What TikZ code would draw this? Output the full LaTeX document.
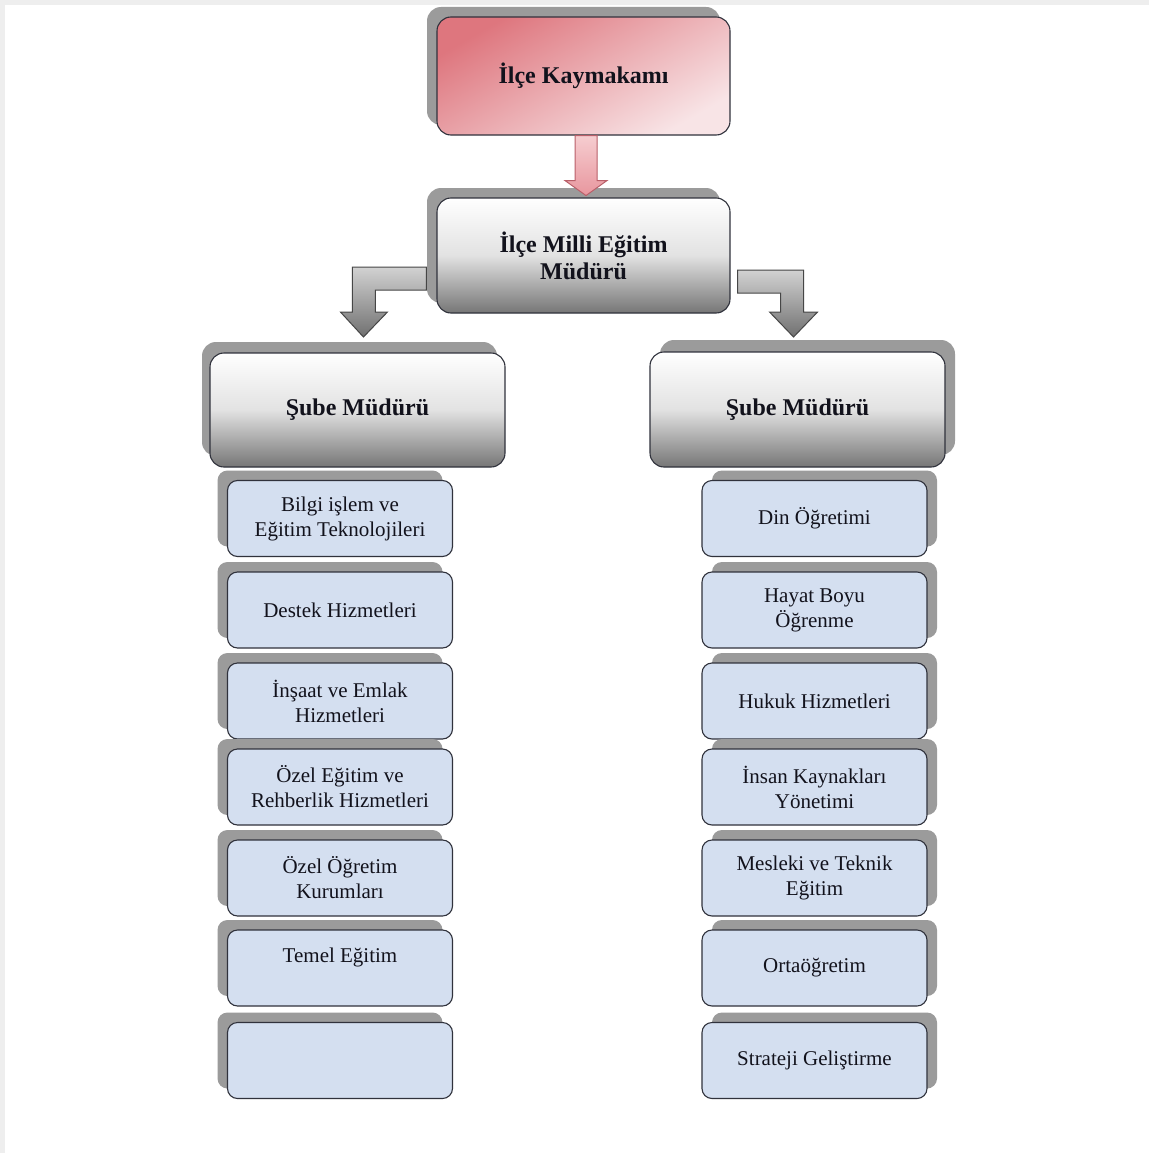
\documentclass[tikz,border=0pt]{standalone}
\usepackage{fontspec}
\setmainfont{Liberation Serif}
\usetikzlibrary{shadows,calc}
\definecolor{shadowgray}{RGB}{155,155,155}
\definecolor{itemblue}{RGB}{212,223,240}
\definecolor{edgecol}{RGB}{48,50,60}
\definecolor{txtcol}{RGB}{18,18,28}
\definecolor{framegray}{RGB}{238,238,238}
\tikzset{
  base/.style={draw=edgecol, line width=1.1pt, align=center, text=txtcol, inner sep=2pt},
  bigbox/.style={base, rounded corners=14pt, minimum width=293pt, minimum height=116pt,
    font=\fontsize{24}{27}\selectfont\bfseries},
  graybox/.style={bigbox, top color=white, bottom color={rgb,255:red,118;green,118;blue,118},
    middle color={rgb,255:red,226;green,226;blue,226}},
  pinkbox/.style={bigbox, top color={rgb,255:red,222;green,118;blue,126},
    bottom color={rgb,255:red,248;green,228;blue,230}, shading angle=30},
  itembox/.style={base, rounded corners=10pt, fill=itemblue, minimum width=225pt,
    minimum height=76pt, font=\fontsize{21}{25}\selectfont},
  shadowL/.style={drop shadow={shadow xshift=-10pt, shadow yshift=10pt, fill=shadowgray, opacity=1}},
  shadowR/.style={drop shadow={shadow xshift=10pt, shadow yshift=10pt, fill=shadowgray, opacity=1}},
  pinkarrow/.style={draw={rgb,255:red,185;green,95;blue,105}, line width=1pt, line join=miter,
    top color={rgb,255:red,246;green,205;blue,208}, bottom color={rgb,255:red,232;green,150;blue,158}},
  grayarrow/.style={draw={rgb,255:red,70;green,70;blue,70}, line width=1pt, line join=miter,
    top color={rgb,255:red,210;green,210;blue,210}, bottom color={rgb,255:red,112;green,112;blue,112}},
}
\begin{document}
\begin{tikzpicture}[x=1pt,y=-1pt]
\useasboundingbox (0,0) rectangle (1149,1153);
\fill[white] (0,0) rectangle (1149,1153);
\fill[framegray] (0,0) rectangle (1149,5);
\fill[framegray] (0,0) rectangle (5,1153);

% top boxes
\node[pinkbox, shadowL, minimum height=118pt] (kay) at (583.5,76) {İlçe Kaymakamı};
\node[graybox, shadowL, minimum height=115pt] (mem) at (583.5,255.5) {İlçe Milli Eğitim\\Müdürü};

% branch heads
\node[graybox, drop shadow={shadow xshift=-8pt, shadow yshift=11pt, fill=shadowgray, opacity=1},
  minimum width=295pt, minimum height=114pt] (subL) at (357.5,410) {Şube Müdürü};
\node[graybox, drop shadow={shadow xshift=10pt, shadow yshift=12pt, fill=shadowgray, opacity=1},
  minimum width=295pt, minimum height=115pt] (subR) at (797.5,409.5) {Şube Müdürü};

% left column
\node[itembox, shadowL] (l1) at (340,518.5) {Bilgi işlem ve\\Eğitim Teknolojileri};
\node[itembox, shadowL] (l2) at (340,610) {Destek Hizmetleri};
\node[itembox, shadowL] (l3) at (340,701) {İnşaat ve Emlak\\Hizmetleri};
\node[itembox, shadowL] (l4) at (340,787) {Özel Eğitim ve\\Rehberlik Hizmetleri};
\node[itembox, shadowL] (l5) at (340,878) {Özel Öğretim\\Kurumları};
\node[itembox, shadowL] (l6) at (340,968) {Temel Eğitim\\\mbox{}};
\node[itembox, shadowL] (l7) at (340,1060.5) {};

% right column
\node[itembox, shadowR] (r1) at (814.5,518.5) {Din Öğretimi};
\node[itembox, shadowR] (r2) at (814.5,610) {Hayat Boyu\\Öğrenme};
\node[itembox, shadowR] (r3) at (814.5,701) {Hukuk Hizmetleri};
\node[itembox, shadowR] (r4) at (814.5,787) {İnsan Kaynakları\\Yönetimi};
\node[itembox, shadowR] (r5) at (814.5,878) {Mesleki ve Teknik\\Eğitim};
\node[itembox, shadowR] (r6) at (814.5,968) {Ortaöğretim};
\node[itembox, shadowR] (r7) at (814.5,1060.5) {Strateji Geliştirme};

% pink arrow kay -> mem
\draw[pinkarrow] ($(kay.south)+(-8.5,0)$) -- ++(0,45) -- ++(-10,0) -- ++(21,15)
  -- ++(21,-15) -- ++(-10,0) -- ++(0,-45) -- cycle;

% bent arrow mem -> subL
\draw[grayarrow] ($(mem.west)+(-10,11.5)$) -- ++(-74,0) -- ++(0,45) -- ++(-12,0)
  -- ++(23,25) -- ++(24,-25) -- ++(-12,0) -- ++(0,-22) -- ++(51,0) -- cycle;

% bent arrow mem -> subR
\draw[grayarrow] ($(mem.east)+(7,14.5)$) -- ++(66,0) -- ++(0,42) -- ++(14,0)
  -- ++(-24,25) -- ++(-24,-25) -- ++(11,0) -- ++(0,-19) -- ++(-43,0) -- cycle;
\end{tikzpicture}
\end{document}
